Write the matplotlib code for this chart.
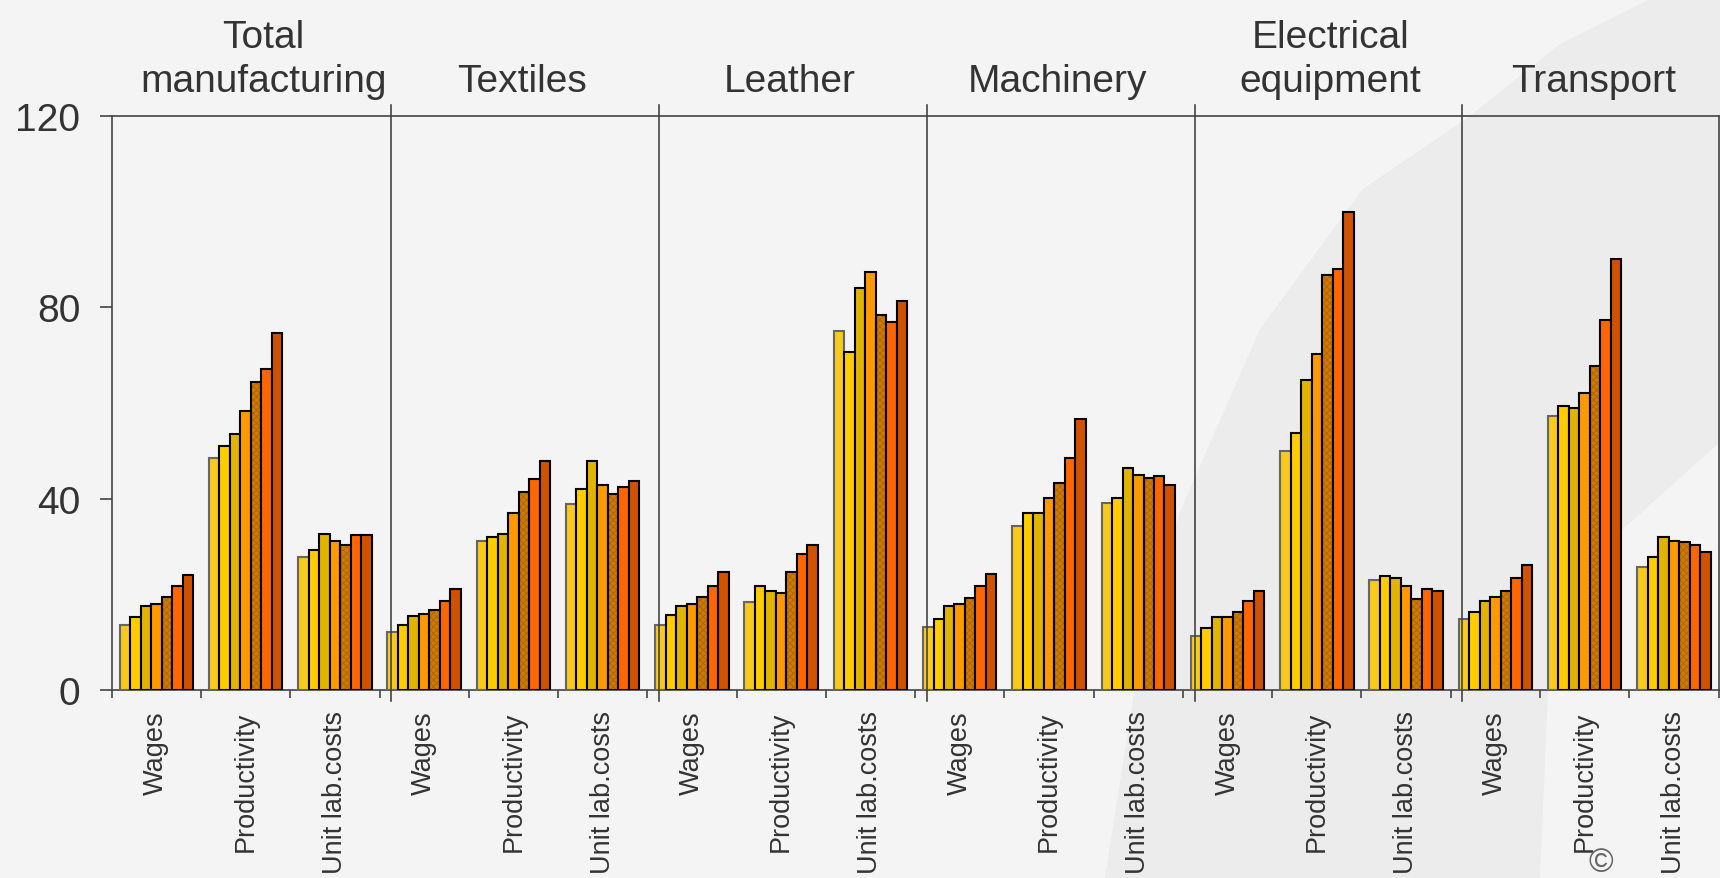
import matplotlib
matplotlib.use("Agg")
import matplotlib.pyplot as plt
from matplotlib.patches import Polygon
from matplotlib.transforms import blended_transform_factory
import numpy as np

plt.rcParams['font.family'] = ['Liberation Sans', 'DejaVu Sans']
plt.rcParams['hatch.linewidth'] = 0.6

# ---------------- data ----------------
industries = ["Total\nmanufacturing", "Textiles", "Leather", "Machinery",
              "Electrical\nequipment", "Transport"]
measures = ["Wages", "Productivity", "Unit lab.costs"]

total_manufacturing = [[13.6, 15.2, 17.6, 17.9, 19.5, 21.8, 24.1],
                       [48.4, 51.0, 53.4, 58.2, 64.4, 67.1, 74.5],
                       [27.7, 29.3, 32.7, 31.2, 30.4, 32.3, 32.3]]
textiles = [[12.1, 13.6, 15.5, 15.9, 16.7, 18.7, 21.0],
            [31.1, 32.0, 32.7, 37.0, 41.3, 44.1, 47.9],
            [38.9, 42.1, 47.9, 42.8, 41.0, 42.5, 43.7]]
leather = [[13.6, 15.6, 17.6, 17.9, 19.5, 21.8, 24.6],
           [18.3, 21.8, 20.7, 20.3, 24.6, 28.5, 30.4],
           [75.0, 70.6, 83.9, 87.4, 78.4, 76.9, 81.2]]
machinery = [[13.2, 14.8, 17.6, 18.0, 19.2, 21.8, 24.2],
             [34.3, 37.0, 37.0, 40.2, 43.3, 48.4, 56.6],
             [39.0, 40.2, 46.4, 44.9, 44.4, 44.8, 42.9]]
electrical_equipment = [[11.3, 12.9, 15.2, 15.2, 16.4, 18.7, 20.6],
                        [49.9, 53.8, 64.8, 70.3, 86.7, 87.9, 99.9],
                        [23.0, 23.8, 23.5, 21.8, 19.1, 21.0, 20.6]]
transport = [[14.8, 16.4, 18.7, 19.5, 20.7, 23.4, 26.1],
             [57.3, 59.3, 58.9, 62.1, 67.6, 77.3, 90.1],
             [25.8, 27.7, 32.0, 31.2, 30.9, 30.4, 28.9]]

panels = [total_manufacturing, textiles, leather, machinery,
          electrical_equipment, transport]
yticks = [0, 40, 80, 120]

# ---------------- style ----------------
bar_colors = ['#F8CA1E', '#FFCC00', '#E0B400', '#FF9900', '#CF7A00',
              '#FF6600', '#CF5200']
edge_colors = ['#666666', 'black', 'black', 'black', 'black', 'black', 'black']
hatched = [False, False, False, False, True, False, False]
hatch_color = '#B06400'
txt = '#333333'
spine = '#444444'

W, H = 1720, 879
fig = plt.figure(figsize=(W / 100, H / 100), dpi=100, facecolor='#f4f4f4')

# decorative background swoosh (figure pixel coords -> fraction)
band_px = [(1105, 879), (1133, 700), (1180, 513), (1260, 330), (1363, 190),
           (1466, 120), (1560, 45), (1650, 0), (1720, 0), (1720, 443),
           (1623, 530), (1580, 590), (1548, 690), (1540, 879)]
band = Polygon([(x / W, 1 - y / H) for x, y in band_px], closed=True,
               transform=fig.transFigure, facecolor='#ececec',
               edgecolor='none', zorder=-5)
fig.add_artist(band)

ax = fig.add_axes([111.7 / W, 1 - 691 / H, (1718.5 - 111.7) / W,
                   (691 - 116.7) / H])
ax.patch.set_alpha(0)

vals = np.array(panels, dtype=float).reshape(len(industries) * len(measures), 7)
ncat = vals.shape[0]
xc = np.arange(ncat) + 0.5
bw = 0.1175
nser = vals.shape[1]
for j in range(nser):
    xs = xc + (j - (nser - 1) / 2) * bw
    if hatched[j]:
        ax.bar(xs, vals[:, j], width=bw, color=bar_colors[j],
               edgecolor=hatch_color, hatch='xxxxx', linewidth=0, zorder=2)
        ax.bar(xs, vals[:, j], width=bw, color='none',
               edgecolor=edge_colors[j], linewidth=1.5, zorder=3)
    else:
        ax.bar(xs, vals[:, j], width=bw, color=bar_colors[j],
               edgecolor=edge_colors[j], linewidth=1.5, zorder=3)

ax.set_xlim(0, ncat)
ax.set_ylim(0, 120)
ax.set_yticks(yticks)
ax.set_yticklabels([str(v) for v in yticks])
ax.tick_params(axis='y', length=8.6, width=1.2, color=spine, pad=14,
               labelsize=28, labelcolor=txt)

ax.set_xticks(np.arange(ncat + 1))
ax.set_xticklabels([])
ax.tick_params(axis='x', which='major', length=5.8, width=1.2, color=spine)
ax.set_xticks(xc, minor=True)
ax.set_xticklabels(measures * len(industries), minor=True, rotation=90,
                   fontsize=19.5, color=txt)
ax.tick_params(axis='x', which='minor', length=0, pad=14.5)

for s in ax.spines.values():
    s.set_color(spine)
    s.set_linewidth(1.2)

# panel separators
for k in range(1, len(industries)):
    ax.plot([3 * k + 0.13] * 2, [-2.2, 122.2], color=spine, lw=1.2,
            clip_on=False, zorder=4)

# panel titles
trans = blended_transform_factory(ax.transData, ax.transAxes)
title_shift = [0.1, 0.0, 0.0, 0.0, 0.05, 0.0]
for k, name in enumerate(industries):
    ax.text(3 * k + 1.6 + title_shift[k], 1 + 17 / 574.3, name,
            transform=trans, ha='center', va='bottom', fontsize=28,
            color=txt, linespacing=1.27)

fig.text(1601 / W, 1 - 864 / H, '\u00a9', fontsize=24, color='#666666',
         ha='center', va='center')

fig.savefig('out.png', dpi=100, facecolor=fig.get_facecolor())
